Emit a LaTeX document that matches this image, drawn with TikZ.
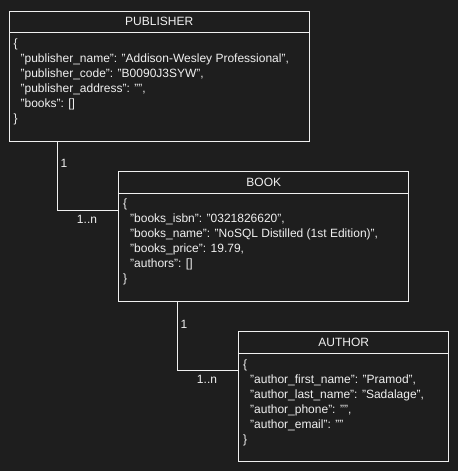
\documentclass[tikz,border=0pt]{standalone}
\usepackage{fontspec}
\setmainfont{Liberation Sans}
\definecolor{bg}{HTML}{1E1E1E}
\definecolor{fg}{HTML}{F0F0F0}
\newcommand\ind{\hspace*{7pt}}
\begin{document}
\begin{tikzpicture}[x=1pt,y=-1pt,
  entity/.style={draw=fg, line width=1pt, anchor=north west, inner sep=0pt},
  titlebox/.style={anchor=north, inner sep=0pt, minimum height=22pt, text=fg, font=\fontsize{12}{15}\selectfont},
  bodytext/.style={anchor=north west, align=left, inner sep=0pt, text=fg, font=\fontsize{12}{15}\selectfont},
  lbl/.style={inner sep=0pt, text=fg, font=\fontsize{12}{15}\selectfont},
  conn/.style={draw=fg, line width=1pt}]
\fill[bg] (0,0) rectangle (458,471);
\useasboundingbox (0,0) rectangle (458,471);

% PUBLISHER
\node[entity, minimum width=300pt, minimum height=130pt] (pub) at (8.7,10.5) {};
\node[titlebox, minimum width=300pt] (pubt) at (pub.north) {PUBLISHER};
\draw[conn] (pubt.south west) -- (pubt.south east);
\node[bodytext] (pubb) at ([shift={(4.4,6)}]pubt.south west) {\{\\
\ind"publisher\_name": "Addison-Wesley Professional",\\
\ind"publisher\_code": "B0090J3SYW",\\
\ind"publisher\_address": "",\\
\ind"books": []\\
\}};

% BOOK
\node[entity, minimum width=290pt, minimum height=130pt] (book) at (118.3,170.7) {};
\node[titlebox, minimum width=290pt] (bookt) at (book.north) {BOOK};
\draw[conn] (bookt.south west) -- (bookt.south east);
\node[bodytext] (bookb) at ([shift={(4.4,6)}]bookt.south west) {\{\\
\ind"books\_isbn": "0321826620",\\
\ind"books\_name": "NoSQL Distilled (1st Edition)",\\
\ind"books\_price": 19.79,\\
\ind"authors": []\\
\}};

% AUTHOR
\node[entity, minimum width=210pt, minimum height=130pt] (auth) at (238.3,330.7) {};
\node[titlebox, minimum width=210pt] (autht) at (auth.north) {AUTHOR};
\draw[conn] (autht.south west) -- (autht.south east);
\node[bodytext] (authb) at ([shift={(4.4,6)}]autht.south west) {\{\\
\ind"author\_first\_name": "Pramod",\\
\ind"author\_last\_name": "Sadalage",\\
\ind"author\_phone": "",\\
\ind"author\_email": ""\\
\}};

% connectors
\draw[conn] ([xshift=48.6pt]pub.south west) |- ([yshift=-39.3pt]book.north west);
\draw[conn] ([xshift=59pt]book.south west) |- ([yshift=-39.3pt]auth.north west);

% multiplicities
\node[lbl] (l1) at (64,163.5) {1};
\node[lbl] (l2) at (87,219.5) {1..n};
\node[lbl] (l3) at (184,324) {1};
\node[lbl] (l4) at (207,379.5) {1..n};
\end{tikzpicture}
\end{document}
